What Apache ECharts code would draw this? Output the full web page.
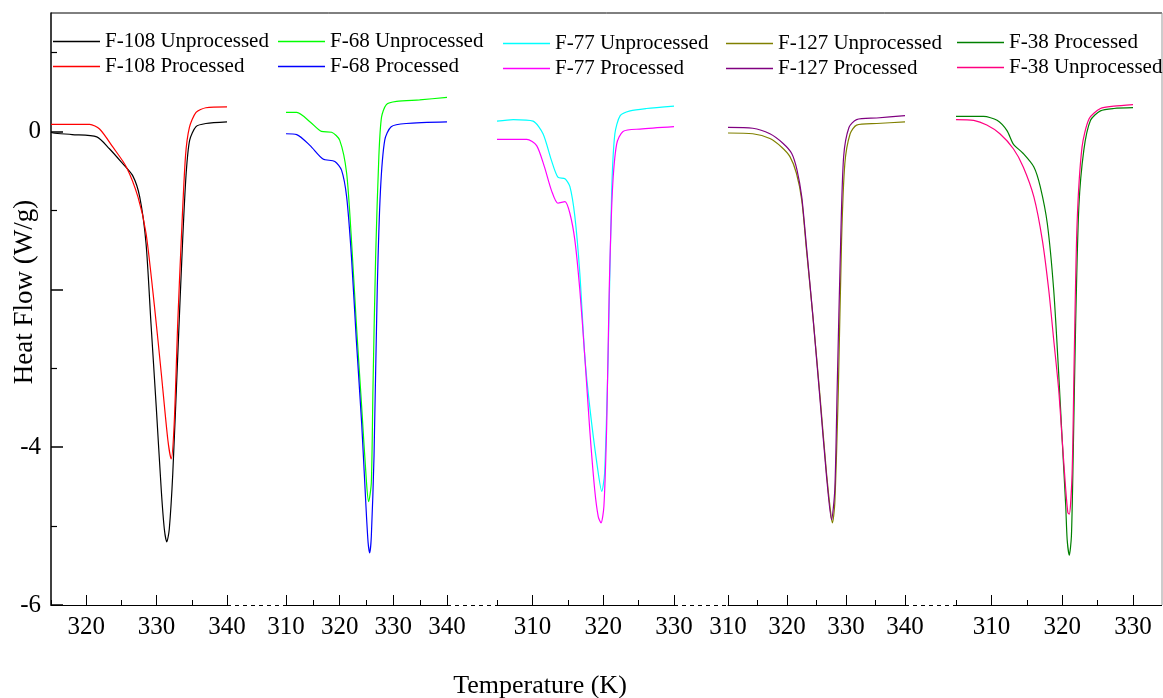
<!DOCTYPE html>
<html><head><meta charset="utf-8">
<script src="https://cdn.jsdelivr.net/npm/echarts@6/dist/echarts.min.js"></script>
<style>html,body{margin:0;padding:0;background:#fff}#chart{width:1163px;height:698px}</style>
</head><body><div id="chart"></div>
<script>
// ---- data ----
const panelRanges = [[315,340],[310,340],[305,330],[310,340],[305,330]];
const xMajorTicks = [[320,330,340],[310,320,330,340],[310,320,330],[310,320,330,340],[310,320,330]];
const xMinorTicks = [[315,325,335],[315,325,335],[305,315,325],[315,325,335],[305,315,325]];
const yRange = [-6, 1.5];
const yMajorTicks = [-6,-4,-2,0];
const yMinorTicks = [-5,-3,-1,1];
const yTickLabels = [-6,-4,0];

const F108_UNPROCESSED = [[315,-0.01],[315.3,-0.02],[318,-0.04],[321.5,-0.07],[323.3,-0.22],[325,-0.39],[326.6,-0.56],[327.6,-0.83],[328.5,-1.42],[329.2,-2.43],[329.95,-3.49],[330.66,-4.54],[331.1,-5.04],[331.45,-5.2],[331.8,-5.04],[332.3,-4.33],[333,-2.85],[333.7,-1.38],[334.2,-0.53],[334.7,-0.11],[335.6,0.06],[337,0.10],[340,0.12]];
const F108_PROCESSED = [[315,0.09],[320.5,0.09],[321.9,0.03],[323.8,-0.2],[325.7,-0.45],[327.35,-0.83],[328.5,-1.29],[329.7,-2.22],[330.66,-3.06],[331.6,-3.91],[332.07,-4.15],[332.5,-3.7],[333,-2.43],[333.5,-1.38],[334.1,-0.32],[334.66,0.05],[335.6,0.24],[337,0.30],[340,0.31]];
const F68_UNPROCESSED = [[310,0.24],[312,0.24],[314.5,0.12],[316.6,0.0],[318.5,-0.01],[320,-0.11],[321.3,-0.53],[322.2,-1.38],[323.1,-2.43],[324.1,-3.49],[325,-4.45],[325.4,-4.69],[325.9,-4.45],[326.2,-3.27],[326.7,-1.59],[327.3,-0.32],[327.8,0.18],[328.7,0.34],[330.6,0.38],[334.9,0.40],[340,0.43]];
const F68_PROCESSED = [[310,-0.03],[312,-0.04],[314.5,-0.18],[316.9,-0.35],[319.1,-0.38],[320.35,-0.49],[321.3,-0.83],[322.2,-1.59],[323.1,-2.64],[324.1,-3.7],[324.9,-4.75],[325.3,-5.21],[325.6,-5.34],[325.9,-5.13],[326.4,-4.12],[327,-2.01],[327.6,-0.75],[328.4,-0.11],[329.6,0.06],[332.4,0.10],[340,0.12]];
const F77_UNPROCESSED = [[305,0.13],[307.3,0.15],[310.1,0.13],[311.5,-0.03],[312.7,-0.37],[313.6,-0.58],[314.6,-0.6],[315.3,-0.7],[316,-1.08],[316.7,-1.8],[317.4,-2.85],[318.1,-3.49],[319.1,-4.2],[319.8,-4.56],[320.2,-4.33],[320.7,-2.85],[321.2,-0.75],[321.65,-0.03],[322.4,0.20],[323.8,0.26],[326.1,0.29],[330,0.32]];
const F77_PROCESSED = [[305,-0.10],[309.2,-0.10],[310.6,-0.18],[311.7,-0.45],[312.7,-0.75],[313.6,-0.91],[314.6,-0.89],[315.3,-1.04],[316,-1.38],[316.7,-2.01],[317.4,-2.85],[318.1,-3.78],[318.8,-4.54],[319.3,-4.88],[319.7,-4.96],[320.1,-4.75],[320.5,-3.7],[320.85,-2.01],[321.3,-0.75],[321.9,-0.16],[322.8,0.0],[325.2,0.03],[330,0.06]];
const F127_UNPROCESSED = [[310,-0.02],[314.2,-0.03],[317.1,-0.09],[319.1,-0.2],[320.5,-0.32],[321.6,-0.53],[322.5,-0.87],[323.3,-1.5],[324.4,-2.35],[325.6,-3.36],[326.7,-4.33],[327.4,-4.83],[327.7,-4.96],[328.1,-4.71],[328.7,-3.27],[329.25,-1.38],[329.8,-0.41],[330.7,-0.03],[331.8,0.08],[335.2,0.10],[340,0.12]];
const F127_PROCESSED = [[310,0.05],[314.2,0.04],[317.1,-0.03],[319.3,-0.15],[320.8,-0.28],[321.7,-0.49],[322.5,-0.83],[323.3,-1.46],[324.4,-2.35],[325.6,-3.4],[326.7,-4.37],[327.55,-4.92],[328.1,-4.54],[328.5,-3.27],[329.1,-1.38],[329.6,-0.32],[330.5,0.05],[331.8,0.15],[335.2,0.17],[340,0.20]];
const F38_PROCESSED = [[305,0.19],[308.9,0.19],[310.8,0.14],[312.2,0.01],[313.1,-0.16],[314.5,-0.28],[316,-0.45],[316.9,-0.70],[317.9,-1.17],[318.8,-2.01],[319.5,-3.06],[320,-3.91],[320.5,-4.75],[320.7,-5.17],[321,-5.37],[321.3,-5.13],[321.55,-4.12],[321.9,-2.43],[322.35,-0.96],[323.05,-0.24],[324,0.14],[325.4,0.26],[327.3,0.29],[330,0.30]];
const F38_UNPROCESSED = [[305,0.15],[307.5,0.14],[309.35,0.08],[311.2,-0.03],[313.1,-0.22],[314.5,-0.45],[316,-0.83],[317.2,-1.38],[318.1,-2.01],[318.8,-2.64],[319.5,-3.27],[320,-3.91],[320.5,-4.54],[320.8,-4.83],[321,-4.85],[321.4,-4.33],[321.7,-2.85],[322.1,-1.17],[322.8,-0.2],[323.8,0.16],[325.4,0.29],[327.3,0.32],[330,0.34]];

const seriesNames = ['F-108 Unprocessed','F-108 Processed','F-68 Unprocessed','F-68 Processed','F-77 Unprocessed','F-77 Processed','F-127 Unprocessed','F-127 Processed','F-38 Processed','F-38 Unprocessed'];
const seriesData = [F108_UNPROCESSED,F108_PROCESSED,F68_UNPROCESSED,F68_PROCESSED,F77_UNPROCESSED,F77_PROCESSED,F127_UNPROCESSED,F127_PROCESSED,F38_PROCESSED,F38_UNPROCESSED];
const seriesPanel = [0,0,1,1,2,2,3,3,4,4];
const xTitle = 'Temperature (K)';
const yTitle = 'Heat Flow (W/g)';

// ---- style ----
const FONT = '"Liberation Serif","Times New Roman",serif';
const colors = ['#000000','#ff0000','#00ff00','#0000ff','#00ffff','#ff00ff','#808000','#800080','#008000','#ff0080'];
const gridBoxes = [[51,176],[286,161],[497,177],[728,177],[956,177]];
const GT = 13, GH = 592, BOTTOM = GT + GH;
const legendPos = [[53,42],[278,42],[503,44],[726,44],[957,43]];

const grid = gridBoxes.map(b => ({left:b[0], width:b[1], top:GT, height:GH, containLabel:false}));
const xAxis = [];
panelRanges.forEach((r,i) => {
  xAxis.push({type:'value', gridIndex:i, position:'bottom', min:r[0], max:r[1],
    axisLine:{show:true, onZero:false, lineStyle:{color:'#000', width:1}},
    axisTick:{show:true, inside:true, length:10, customValues:xMajorTicks[i], lineStyle:{color:'#000', width:1}},
    axisLabel:{show:true, customValues:xMajorTicks[i], margin:10, fontFamily:FONT, fontSize:25, color:'#000'},
    splitLine:{show:false}});
  xAxis.push({type:'value', gridIndex:i, position:'bottom', min:r[0], max:r[1],
    axisLine:{show:false, onZero:false},
    axisTick:{show:true, inside:true, length:5, customValues:xMinorTicks[i], lineStyle:{color:'#000', width:1}},
    axisLabel:{show:false}, splitLine:{show:false}});
});
const yAxis = [
  {type:'value', gridIndex:0, position:'left', min:yRange[0], max:yRange[1],
    axisLine:{show:true, onZero:false, lineStyle:{color:'#000', width:1.5}},
    axisTick:{show:true, inside:true, length:12, customValues:yMajorTicks, lineStyle:{color:'#000', width:1.5}},
    axisLabel:{show:true, customValues:yTickLabels, margin:10, fontFamily:FONT, fontSize:25, color:'#000'},
    splitLine:{show:false}},
  {type:'value', gridIndex:0, position:'left', min:yRange[0], max:yRange[1],
    axisLine:{show:false, onZero:false},
    axisTick:{show:true, inside:true, length:6, customValues:yMinorTicks, lineStyle:{color:'#000', width:1.2}},
    axisLabel:{show:false}, splitLine:{show:false}}
];
for (let i=1;i<5;i++) yAxis.push({type:'value', gridIndex:i, min:yRange[0], max:yRange[1], show:false});

const series = seriesData.map((d,k) => {
  const p = seriesPanel[k];
  return {type:'line', name:seriesNames[k], data:d, xAxisIndex:2*p, yAxisIndex: p===0?0:p+1,
    showSymbol:false, smooth:0.25, clip:true, lineStyle:{width:1.2, color:colors[k]}, itemStyle:{color:colors[k]}, z:3};
});

const legend = legendPos.map((pos,i) => ({
  orient:'vertical', left:pos[0]-5, top:pos[1]-12.5-5, itemWidth:47, itemHeight:1.5, itemGap:1,
  icon:'rect', selectedMode:false,
  data:[seriesNames[2*i], seriesNames[2*i+1]],
  textStyle:{fontFamily:FONT, fontSize:21, color:'#000', lineHeight:24}
}));

// frame + broken-axis segments
const graphic = [
  {type:'line', shape:{x1:51, y1:GT, x2:1162, y2:GT}, style:{stroke:'#000', lineWidth:1}},
  {type:'line', shape:{x1:1162, y1:GT, x2:1162, y2:BOTTOM}, style:{stroke:'#999', lineWidth:1}},
  {type:'line', shape:{x1:1133, y1:BOTTOM+0.5, x2:1162, y2:BOTTOM+0.5}, style:{stroke:'#000', lineWidth:1}},
  {type:'text', x:540, y:686, style:{text:xTitle, fontFamily:FONT, fontSize:26, fill:'#000', textAlign:'center', textVerticalAlign:'middle'}},
  {type:'text', x:25, y:292, rotation:Math.PI/2, style:{text:yTitle, x:0, y:0, fontFamily:FONT, fontSize:27, fill:'#000', textAlign:'center', textVerticalAlign:'middle'}}
];
for (let i=0;i<4;i++) {
  const x1 = gridBoxes[i][0]+gridBoxes[i][1], x2 = gridBoxes[i+1][0];
  graphic.push({type:'line', shape:{x1:x1, y1:BOTTOM+0.5, x2:x2, y2:BOTTOM+0.5}, style:{stroke:'#000', lineWidth:1, lineDash:[4,4]}});
}

const chart = echarts.init(document.getElementById('chart'), null, {renderer:'canvas'});
chart.setOption({animation:false, backgroundColor:'#fff', grid, xAxis, yAxis, series, legend, graphic});
</script></body></html>
